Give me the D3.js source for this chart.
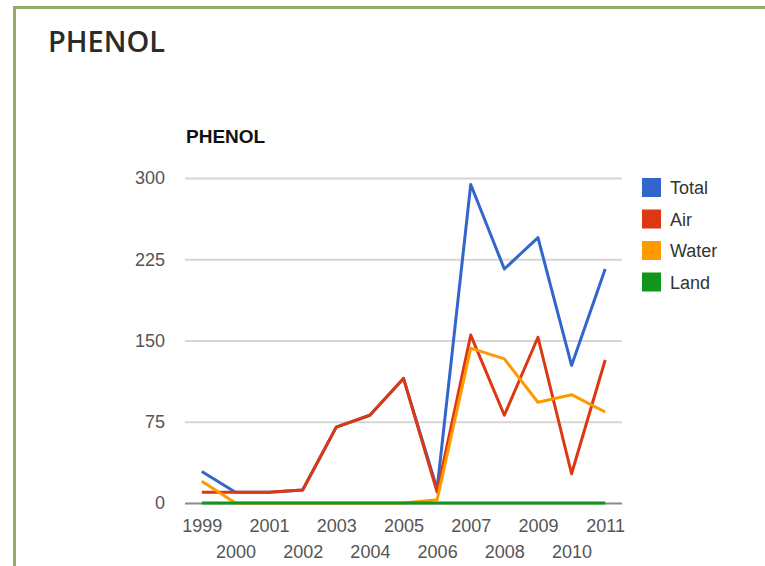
<!DOCTYPE html>
<html>
<head>
<meta charset="utf-8">
<script src="https://cdn.jsdelivr.net/npm/d3@7"></script>
<style>
  html, body { margin: 0; padding: 0; background: #fff; }
  svg { display: block; }
</style>
</head>
<body>
<svg id="chart" width="765" height="566"></svg>
<script>
// Reporting years
const years = ["1999","2000","2001","2002","2003","2004","2005","2006","2007","2008","2009","2010","2011"];

// Releases by medium
const total = [29, 10, 10, 12, 70, 81, 115, 13, 294, 216, 245, 127, 216];
const air   = [10, 10, 10, 12, 70, 81, 115, 10, 155, 81, 153, 27, 132];
const water = [20, 0, 0, 0, 0, 0, 0, 3, 143, 133, 93, 100, 84];
const land  = [0, 0, 0, 0, 0, 0, 0, 0, 0, 0, 0, 0, 0];

const seriesNames = ["Total", "Air", "Water", "Land"];
const seriesColors = ["#3366cc", "#dc3912", "#ff9900", "#109618"];
const yTicks = [0, 75, 150, 225, 300];

const series = [total, air, water, land].map((vals, i) => ({
  name: seriesNames[i], color: seriesColors[i], values: vals
}));

const svg = d3.select("#chart");

// Panel frame
svg.append("path")
  .attr("d", "M14.5,566 L14.5,7.5 L765,7.5")
  .attr("fill", "none")
  .attr("stroke", "#93ab68")
  .attr("stroke-width", 3);

// Page heading
svg.append("text")
  .attr("x", 48).attr("y", 52)
  .attr("font-family", "'Open Sans', 'Liberation Sans', Arial, sans-serif")
  .attr("font-size", 29).attr("font-weight", 600)
  .attr("fill", "#2b2b2b")
  .text("PHENOL");

// Chart title
svg.append("text")
  .attr("x", 186).attr("y", 143)
  .attr("font-family", "'Liberation Sans', Arial, sans-serif")
  .attr("font-size", 19).attr("font-weight", "bold")
  .attr("fill", "#111")
  .text("PHENOL");

const plot = { left: 185, right: 622, top: 178, bottom: 503 };

const x = d3.scalePoint().domain(years).range([plot.left, plot.right]).padding(0.5);
const y = d3.scaleLinear().domain([0, 300]).range([plot.bottom, plot.top]);

const font = "'Liberation Sans', Arial, sans-serif";

// Horizontal gridlines
const yAxis = d3.axisLeft(y).tickValues(yTicks).tickSize(-(plot.right - plot.left)).tickPadding(20);
const gy = svg.append("g").attr("transform", `translate(${plot.left},0)`).call(yAxis);
gy.select(".domain").remove();
gy.selectAll(".tick line").attr("stroke", "#d6d6d6").attr("stroke-width", 2);
gy.selectAll(".tick text")
  .attr("font-family", font).attr("font-size", 18).attr("fill", "#555");

// Baseline
gy.selectAll(".tick").filter(d => d === 0).select("line").attr("stroke", "#8a8a8a");

// Category axis with staggered labels
const xAxis = d3.axisBottom(x).tickSize(0).tickPadding(0);
const gx = svg.append("g").attr("transform", `translate(0,${plot.bottom})`).call(xAxis);
gx.select(".domain").remove();
gx.selectAll(".tick text")
  .attr("font-family", font).attr("font-size", 18).attr("fill", "#555")
  .attr("dy", null)
  .attr("y", (d, i) => i % 2 === 0 ? 29 : 55);

// Lines
const line = d3.line().x((d, i) => x(years[i])).y(d => y(d));
svg.append("g").selectAll("path")
  .data(series)
  .join("path")
  .attr("d", s => line(s.values))
  .attr("fill", "none")
  .attr("stroke", s => s.color)
  .attr("stroke-width", 3)
  .attr("stroke-linejoin", "round");

// Legend
const legend = svg.append("g").attr("transform", "translate(642,178)");
const item = legend.selectAll("g").data(series).join("g")
  .attr("transform", (d, i) => `translate(0,${i * 31.5})`);
item.append("rect").attr("width", 19).attr("height", 19).attr("fill", d => d.color);
item.append("text")
  .attr("x", 28).attr("y", 16)
  .attr("font-family", font).attr("font-size", 18).attr("fill", "#333")
  .text(d => d.name);
</script>
</body>
</html>
